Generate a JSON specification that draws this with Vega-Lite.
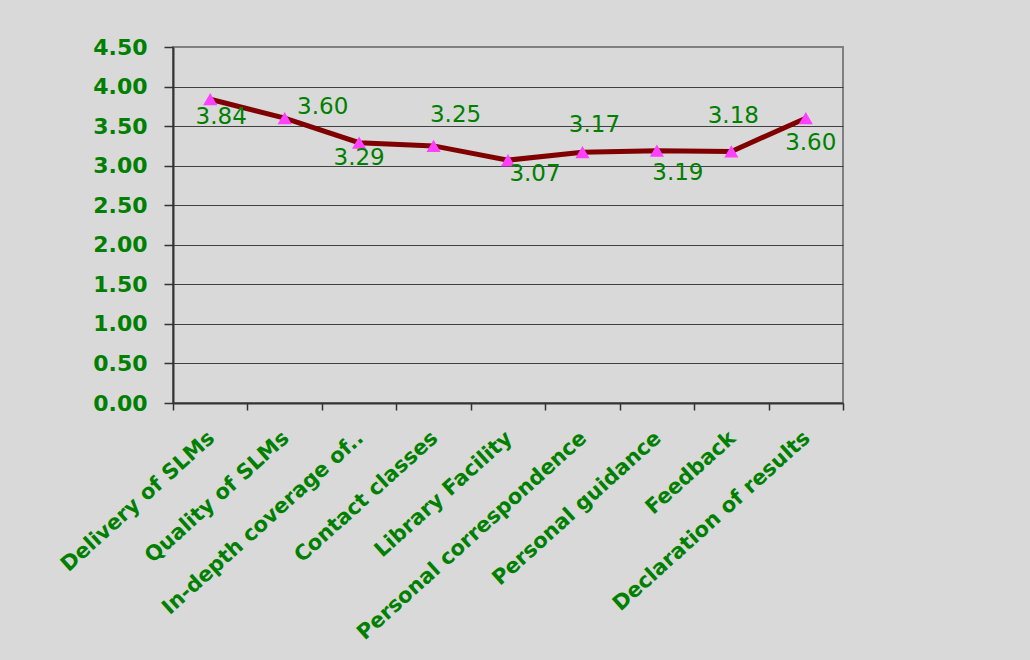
{
  "$schema": "https://vega.github.io/schema/vega-lite/v6.json",
  "width": 670,
  "height": 356,
  "autosize": {"type": "none"},
  "padding": {"left": 173, "top": 47, "right": 187, "bottom": 257},
  "background": "#d9d9d9",
  "config": {
    "view": {"stroke": "#808080", "strokeWidth": 2, "fill": "#d9d9d9"},
    "font": "DejaVu Sans"
  },
  "data": {
    "values": [
      {"aspect": "Delivery of SLMs", "score": 3.84},
      {"aspect": "Quality of SLMs", "score": 3.60},
      {"aspect": "In-depth coverage of..", "score": 3.29},
      {"aspect": "Contact classes", "score": 3.25},
      {"aspect": "Library Facility", "score": 3.07},
      {"aspect": "Personal correspondence", "score": 3.17},
      {"aspect": "Personal guidance", "score": 3.19},
      {"aspect": "Feedback", "score": 3.18},
      {"aspect": "Declaration of results", "score": 3.60}
    ]
  },
  "encoding": {
    "x": {
      "field": "aspect",
      "type": "nominal",
      "sort": null,
      "scale": {"type": "band", "paddingInner": 0, "paddingOuter": 0},
      "axis": {
        "title": null,
        "labelAngle": -42,
        "labelAlign": "right",
        "labelBaseline": "middle",
        "labelFont": "DejaVu Sans",
        "labelFontWeight": "bold",
        "labelFontSize": 21,
        "labelColor": "#008000",
        "labelPadding": 25,
        "labelOffset": 1,
        "labelLimit": 0,
        "tickSize": 7,
        "tickBand": "extent",
        "tickColor": "#333333",
        "tickWidth": 1.5,
        "domainColor": "#333333",
        "domainWidth": 2,
        "grid": false
      }
    },
    "y": {
      "field": "score",
      "type": "quantitative",
      "scale": {"domain": [0, 4.5], "nice": false},
      "axis": {
        "title": null,
        "values": [0, 0.5, 1, 1.5, 2, 2.5, 3, 3.5, 4, 4.5],
        "format": ".2f",
        "labelFont": "DejaVu Sans",
        "labelFontWeight": "bold",
        "labelFontSize": 22,
        "labelColor": "#008000",
        "labelPadding": 17,
        "tickSize": 9,
        "tickColor": "#333333",
        "tickWidth": 1.5,
        "domainColor": "#333333",
        "domainWidth": 2,
        "grid": true,
        "gridColor": {"condition": {"test": "datum.value === 4.5", "value": "#808080"}, "value": "#404040"},
        "gridWidth": 1.2,
        "gridOpacity": 1
      }
    }
  },
  "layer": [
    {"mark": {"type": "line", "color": "#800000", "strokeWidth": 5}},
    {"mark": {"type": "point", "shape": "triangle-up", "filled": true, "color": "#ff40ff", "size": 200, "opacity": 1}},
    {"transform": [{"filter": "datum.aspect === 'Delivery of SLMs'"}], "mark": {"type": "text", "fontSize": 23, "color": "#008000", "align": "center", "baseline": "middle", "dx": 11, "dy": 18}, "encoding": {"text": {"field": "score", "format": ".2f"}}},
    {"transform": [{"filter": "datum.aspect === 'Quality of SLMs'"}], "mark": {"type": "text", "fontSize": 23, "color": "#008000", "align": "center", "baseline": "middle", "dx": 38, "dy": -11}, "encoding": {"text": {"field": "score", "format": ".2f"}}},
    {"transform": [{"filter": "datum.aspect === 'In-depth coverage of..'"}], "mark": {"type": "text", "fontSize": 23, "color": "#008000", "align": "center", "baseline": "middle", "dx": 0, "dy": 15}, "encoding": {"text": {"field": "score", "format": ".2f"}}},
    {"transform": [{"filter": "datum.aspect === 'Contact classes'"}], "mark": {"type": "text", "fontSize": 23, "color": "#008000", "align": "center", "baseline": "middle", "dx": 22, "dy": -31}, "encoding": {"text": {"field": "score", "format": ".2f"}}},
    {"transform": [{"filter": "datum.aspect === 'Library Facility'"}], "mark": {"type": "text", "fontSize": 23, "color": "#008000", "align": "center", "baseline": "middle", "dx": 27, "dy": 14}, "encoding": {"text": {"field": "score", "format": ".2f"}}},
    {"transform": [{"filter": "datum.aspect === 'Personal correspondence'"}], "mark": {"type": "text", "fontSize": 23, "color": "#008000", "align": "center", "baseline": "middle", "dx": 12, "dy": -27}, "encoding": {"text": {"field": "score", "format": ".2f"}}},
    {"transform": [{"filter": "datum.aspect === 'Personal guidance'"}], "mark": {"type": "text", "fontSize": 23, "color": "#008000", "align": "center", "baseline": "middle", "dx": 21, "dy": 22}, "encoding": {"text": {"field": "score", "format": ".2f"}}},
    {"transform": [{"filter": "datum.aspect === 'Feedback'"}], "mark": {"type": "text", "fontSize": 23, "color": "#008000", "align": "center", "baseline": "middle", "dx": 2, "dy": -35}, "encoding": {"text": {"field": "score", "format": ".2f"}}},
    {"transform": [{"filter": "datum.aspect === 'Declaration of results'"}], "mark": {"type": "text", "fontSize": 23, "color": "#008000", "align": "center", "baseline": "middle", "dx": 5, "dy": 25}, "encoding": {"text": {"field": "score", "format": ".2f"}}}
  ]
}
